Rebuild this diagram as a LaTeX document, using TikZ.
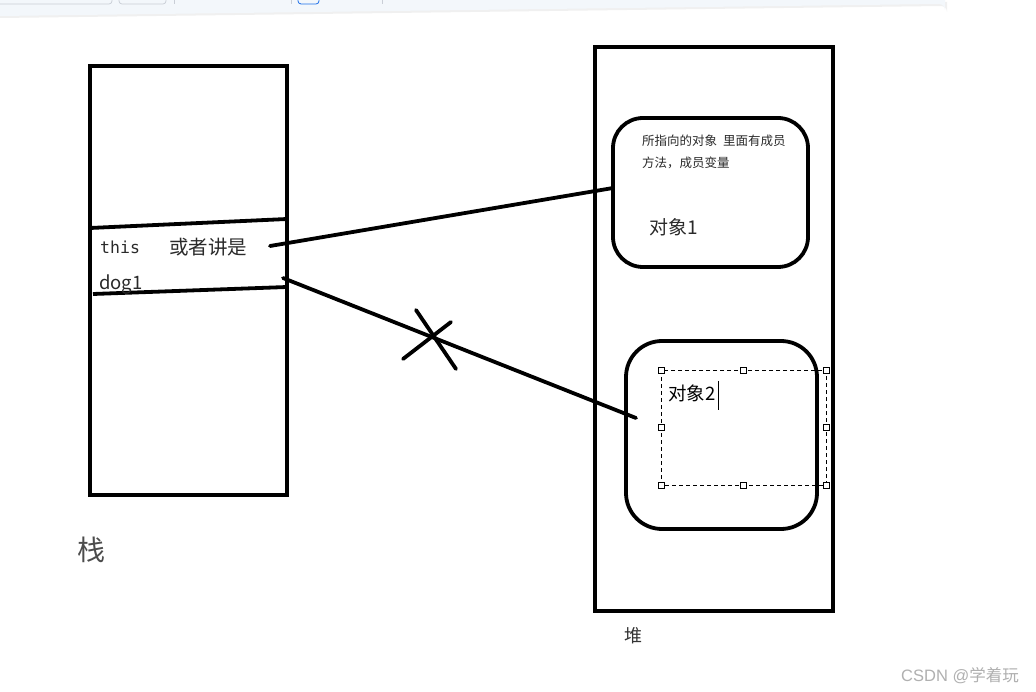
\documentclass[tikz,border=0pt]{standalone}
\usepackage{fontspec}
\newfontfamily\cjk{Noto Sans CJK SC}
\newfontfamily\monof{DejaVu Sans Mono}
\definecolor{barfill}{HTML}{F3F7FB}
\definecolor{barline}{HTML}{C9CED6}
\definecolor{barblue}{HTML}{1E6FE8}
\definecolor{inkgray}{HTML}{2A2A2A}
\definecolor{wmgray}{HTML}{B0B0B0}
\tikzset{
  thick box/.style={draw=black, line width=3.8pt},
  conn/.style={draw=black, line width=3.8pt, line cap=round},
  handle/.style={draw=black, fill=white, line width=0.8pt, minimum size=6pt, inner sep=0pt, rectangle},
  sel/.style={draw=black, line width=0.9pt, dash pattern=on 4pt off 3pt},
  lbl/.style={inner sep=0pt, anchor=base west, text=inkgray},
}
\begin{document}
\begin{tikzpicture}[x=1pt,y=-1pt]
\useasboundingbox[fill=white] (0,0) rectangle (1036,692);
% toolbar remnant
\fill[black!6] (0,2) -- (947,2) -- (947,12) arc[start angle=0,end angle=-90,radius=6] -- (0,18) -- cycle;
\fill[barfill] (0,0) -- (945,0) -- (945,10) arc[start angle=0,end angle=-90,radius=6] -- (0,16) -- cycle;
\draw[barline, line width=0.7pt, rounded corners=3pt] (-5,-5) -- (-5,4) -- (112,4) -- (112,-5);
\draw[barline, line width=0.7pt, rounded corners=3pt] (119,-5) -- (119,4) -- (166,4) -- (166,-5);
\draw[barline, line width=0.5pt] (174,0) -- (174,4);
\draw[barline, line width=0.5pt] (291,0) -- (291,4);
\draw[barline, line width=0.5pt] (382,0) -- (382,4);
\draw[barblue, line width=0.8pt, rounded corners=3pt] (298,-5) -- (298,4) -- (319,4) -- (319,-5);

% stack
\draw[thick box] (90,66) rectangle (287,495);
\coordinate (sL1) at (90,228); \coordinate (sR1) at (287,219);
\coordinate (sL2) at (93,294); \coordinate (sR2) at (287,287);
\draw[conn, line cap=butt] (sL1) -- (sR1);
\draw[conn, line cap=butt] (sL2) -- (sR2);
\node[lbl, font=\monof\fontsize{16.5}{16.5}\selectfont] (this) at (100,254) {this};
\node[lbl, font=\cjk\fontsize{19.5}{19.5}\selectfont] (huo) at (169,255) {或者讲是};
\node[lbl, font=\cjk\fontsize{18.5}{18.5}\selectfont] (dog) at (99,290) {dog1};
\node[lbl, font=\cjk\fontsize{28}{28}\selectfont, text=black!70] (zhan) at (77,560) {栈};

% heap
\draw[thick box] (595,47) rectangle (833,611);
\node[lbl, font=\cjk\fontsize{18}{18}\selectfont, text=black!80] (dui) at (624,642) {堆};

% object 1
\draw[thick box, rounded corners=30pt] (613,118) rectangle (808,267);
\node[lbl, font=\cjk\fontsize{12.5}{12.5}\selectfont] (desc1) at (642,146) {所指向的对象\hspace{6pt}里面有成员};
\node[lbl, font=\cjk\fontsize{12.5}{12.5}\selectfont] (desc2) at (642,168) {方法，成员变量};
\node[lbl, font=\cjk\fontsize{19}{19}\selectfont] (obj1) at (649,235) {对象1};
\coordinate (o1in) at (613,188);

% object 2
\draw[thick box, rounded corners=36pt] (626,341) rectangle (817,529);
\draw[sel] (661,370) rectangle (826,485);
\foreach \p in {(661,370),(743,370),(826,370),(661,427),(826,427),(661,485),(743,485),(826,485)}
  \node[handle] at \p {};
\node[lbl, font=\cjk\fontsize{18.5}{18.5}\selectfont, text=black] (obj2) at (668,401) {对象2};
\draw[black, line width=0.8pt] (718,381) -- (718,410);
\coordinate (o2in) at (636,418);

% connectors
\coordinate (ptr1) at (270,246);
\coordinate (ptr2) at (283,278);
\draw[conn] (ptr1) -- (o1in);
\draw[conn] (ptr2) -- (o2in);
% cross mark
\coordinate (x1a) at (416,310); \coordinate (x1b) at (456,369);
\coordinate (x2a) at (403,359); \coordinate (x2b) at (451,322);
\draw[conn] (x1a) -- (x1b);
\draw[conn] (x2a) -- (x2b);

% watermark
\node[lbl, font=\fontspec{Liberation Sans}\fontsize{16.5}{16.5}\selectfont, text=wmgray] (wm) at (901,681) {CSDN @{\cjk 学着玩}};
\end{tikzpicture}
\end{document}
